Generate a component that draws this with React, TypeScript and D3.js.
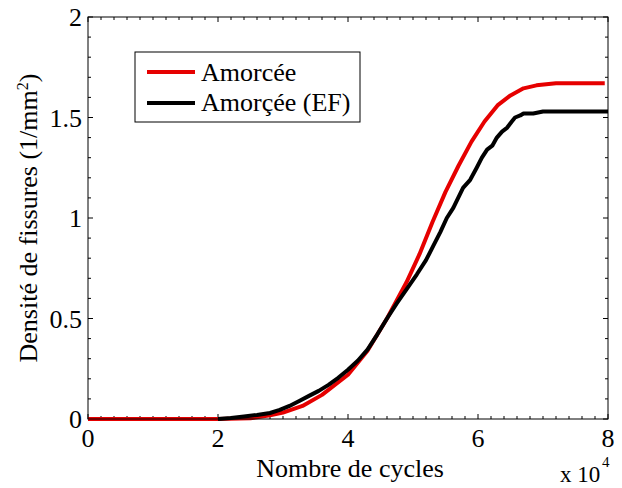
import React from "react";
import * as d3 from "d3";

const redX = [0, 1, 2, 2.5, 2.8, 3.0, 3.3, 3.6, 4.0, 4.3, 4.6, 4.9, 5.1, 5.3, 5.5, 5.7, 5.9, 6.1, 6.3, 6.5, 6.7, 6.9, 7.2, 7.5, 7.95];
const redY = [0, 0, 0, 0.004, 0.018, 0.032, 0.065, 0.12, 0.22, 0.34, 0.50, 0.68, 0.82, 0.98, 1.13, 1.26, 1.38, 1.48, 1.56, 1.61, 1.645, 1.66, 1.67, 1.67, 1.67];
const blackX = [2.0, 2.2, 2.4, 2.6, 2.8, 2.95, 3.1, 3.25, 3.4, 3.55, 3.7, 3.85, 4.0, 4.15, 4.3, 4.45, 4.6, 4.75, 4.9, 5.06, 5.2, 5.31, 5.42, 5.52, 5.62, 5.77, 5.88, 5.98, 6.06, 6.14, 6.22, 6.29, 6.37, 6.45, 6.52, 6.57, 6.65, 6.7, 6.85, 7.0, 8.0];
const blackY = [0, 0.005, 0.012, 0.02, 0.03, 0.045, 0.065, 0.09, 0.115, 0.14, 0.17, 0.205, 0.245, 0.29, 0.345, 0.42, 0.50, 0.575, 0.645, 0.72, 0.79, 0.86, 0.93, 1.0, 1.05, 1.15, 1.19, 1.25, 1.30, 1.34, 1.36, 1.40, 1.43, 1.45, 1.48, 1.50, 1.51, 1.52, 1.52, 1.53, 1.53];
const xTicks = [0, 2, 4, 6, 8];
const yTicks = [0, 0.5, 1, 1.5, 2];
const yTickLabels = ["0", "0.5", "1", "1.5", "2"];
const seriesNames = ["Amorcée", "Amorçée (EF)"];

const L = 88, R = 608, T = 17, B = 419;
const FONT = "'Liberation Serif', 'Times New Roman', 'DejaVu Serif', serif";

export default function App() {
  const x = d3.scaleLinear().domain([0, 8]).range([L, R]);
  const y = d3.scaleLinear().domain([0, 2]).range([B, T]);
  const line = d3.line<[number, number]>().x(d => x(d[0])).y(d => y(d[1]));
  const red = redX.map((v, i) => [v, redY[i]] as [number, number]);
  const black = blackX.map((v, i) => [v, blackY[i]] as [number, number]);
  const xMinor = d3.range(0, 8.001, 0.2);
  const yMinor = d3.range(0, 2.001, 0.1);
  const tl = 5;
  const tm = 3;
  const ts = { fontFamily: FONT };
  return (
    <svg width={622} height={488} style={{ position: "absolute", left: 0, top: 0, background: "#fff", fontFamily: FONT }}>
      <rect x={0} y={0} width={622} height={488} fill="#fff" />
      {xMinor.map((v, i) => (
        <g key={"xm" + i} stroke="#000" strokeWidth={1}>
          <line x1={x(v)} x2={x(v)} y1={B} y2={B - (xTicks.some(t => Math.abs(t - v) < 1e-6) ? tl : tm)} />
          <line x1={x(v)} x2={x(v)} y1={T} y2={T + (xTicks.some(t => Math.abs(t - v) < 1e-6) ? tl : tm)} />
        </g>
      ))}
      {yMinor.map((v, i) => (
        <g key={"ym" + i} stroke="#000" strokeWidth={1}>
          <line y1={y(v)} y2={y(v)} x1={L} x2={L + (yTicks.some(t => Math.abs(t - v) < 1e-6) ? tl : tm)} />
          <line y1={y(v)} y2={y(v)} x1={R} x2={R - (yTicks.some(t => Math.abs(t - v) < 1e-6) ? tl : tm)} />
        </g>
      ))}
      <path d={line(red) || ""} fill="none" stroke="#e60000" strokeWidth={4} strokeLinejoin="round" />
      <path d={line(black) || ""} fill="none" stroke="#000" strokeWidth={4} strokeLinejoin="round" />
      <rect x={L} y={T} width={R - L} height={B - T} fill="none" stroke="#000" strokeWidth={1} />
      {xTicks.map(v => (
        <text key={"xt" + v} x={x(v)} y={447} fontSize={26} textAnchor="middle" style={ts}>{v}</text>
      ))}
      {yTicks.map((v, i) => (
        <text key={"yt" + v} x={82} y={y(v) + 9} fontSize={26} textAnchor="end" style={ts}>{yTickLabels[i]}</text>
      ))}
      <text x={350} y={477} fontSize={26} textAnchor="middle" style={ts}>Nombre de cycles</text>
      <text x={560} y={482} fontSize={23} style={ts}>x 10</text>
      <text x={602} y={467} fontSize={15} style={ts}>4</text>
      <text transform={`translate(37, 218) rotate(-90)`} fontSize={26} textAnchor="middle" style={ts}>
        Densité de fissures (1/mm<tspan dy={-9} fontSize={16}>2</tspan><tspan dy={9}>)</tspan>
      </text>
      <rect x={135} y={52} width={225} height={70} fill="#fff" stroke="#000" strokeWidth={1} />
      <line x1={147} x2={195} y1={72} y2={72} stroke="#e60000" strokeWidth={4} />
      <line x1={147} x2={195} y1={103} y2={103} stroke="#000" strokeWidth={4} />
      <text x={201} y={81} fontSize={26} style={ts}>{seriesNames[0]}</text>
      <text x={201} y={111} fontSize={26} style={ts}>{seriesNames[1]}</text>
    </svg>
  );
}
